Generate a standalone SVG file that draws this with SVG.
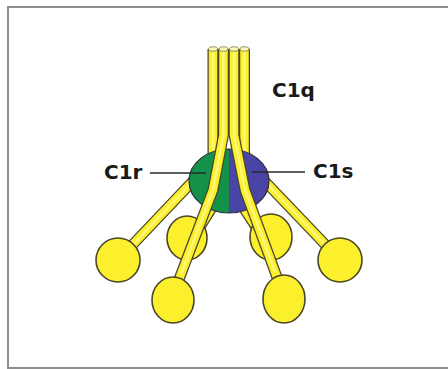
<svg xmlns="http://www.w3.org/2000/svg" width="448" height="369" viewBox="0 0 448 369">
  <style>
    .edge { fill: none; stroke: #4a4628; stroke-width: 11; stroke-linejoin: round; }
    .rod { fill: none; stroke: #fcef2c; stroke-width: 8.5; stroke-linejoin: round; }
    .shine { fill: none; stroke: #fff98c; stroke-width: 2.5; stroke-linejoin: round; opacity: 0.8; }
    .head { fill: #fcef2c; stroke: #4a4628; stroke-width: 1.6; }
    .cap { fill: #fffbb8; stroke: #7a7440; stroke-width: 0.8; }
    .lead { stroke: #2a2a2a; stroke-width: 1.5; fill: none; }
    .lbl { font-family: "DejaVu Sans", sans-serif; font-weight: bold; font-size: 20px; fill: #1a1a1a; }
  </style>

  <!-- panel frame -->
  <rect x="8" y="7" width="460" height="361" fill="#ffffff" stroke="#8e8e8e" stroke-width="2"/>

  <!-- C1q globular heads tucked behind the front arms -->
  <g id="head-inner-left">
    <path class="edge" d="M232,175 L198,230"/>
    <path class="rod" d="M232,175 L198,230"/>
    <ellipse class="head" cx="187" cy="238" rx="20" ry="22"/>
  </g>
  <g id="head-inner-right">
    <path class="edge" d="M222,175 L258,230"/>
    <path class="rod" d="M222,175 L258,230"/>
    <ellipse class="head" cx="271" cy="237" rx="21" ry="23"/>
  </g>

  <!-- outer arms, passing behind C1r / C1s -->
  <g id="head-outer-left">
    <path class="edge" d="M213,49 V160 L118,260"/>
    <path class="rod" d="M213,49 V160 L118,260"/>
    <path class="shine" d="M213,50 V160 L125,253"/>
    <ellipse class="head" cx="118" cy="260" rx="22" ry="22"/>
    <ellipse class="cap" cx="213" cy="49" rx="4.5" ry="2.2"/>
  </g>
  <g id="head-outer-right">
    <path class="edge" d="M244.5,49 V160 L340,260"/>
    <path class="rod" d="M244.5,49 V160 L340,260"/>
    <path class="shine" d="M244.5,50 V160 L333,253"/>
    <ellipse class="head" cx="340" cy="260" rx="22" ry="22"/>
    <ellipse class="cap" cx="244.5" cy="49" rx="4.5" ry="2.2"/>
  </g>

  <!-- C1r (green) and C1s (blue) -->
  <defs>
    <clipPath id="left-half"><rect x="150" y="140" width="79" height="80"/></clipPath>
    <clipPath id="right-half"><rect x="229" y="140" width="80" height="80"/></clipPath>
  </defs>
  <g id="c1r">
    <ellipse cx="229" cy="181" rx="40" ry="32" fill="#14924a" clip-path="url(#left-half)"/>
  </g>
  <g id="c1s">
    <ellipse cx="229" cy="181" rx="40" ry="32" fill="#4a44a6" clip-path="url(#right-half)"/>
  </g>
  <ellipse cx="229" cy="181" rx="40" ry="32" fill="none" stroke="#2c2c3a" stroke-width="1.2"/>

  <!-- front arms crossing the C1r/C1s pair -->
  <g id="head-front-left">
    <path class="edge" d="M223.5,49 V135 L213,190 L178,282"/>
    <path class="rod" d="M223.5,49 V135 L213,190 L178,282"/>
    <path class="shine" d="M223.5,50 V135 L213,190 L181,274"/>
    <ellipse class="head" cx="173" cy="300" rx="21" ry="23"/>
    <ellipse class="cap" cx="223.5" cy="49" rx="4.5" ry="2.2"/>
  </g>
  <g id="head-front-right">
    <path class="edge" d="M234,49 V135 L245,190 L278,280"/>
    <path class="rod" d="M234,49 V135 L245,190 L278,280"/>
    <path class="shine" d="M234,50 V135 L245,190 L275,272"/>
    <ellipse class="head" cx="284" cy="299" rx="21" ry="24"/>
    <ellipse class="cap" cx="234" cy="49" rx="4.5" ry="2.2"/>
  </g>

  <!-- label leaders -->
  <g id="connectors">
    <line class="lead" x1="150" y1="173" x2="206" y2="173"/>
    <line class="lead" x1="252" y1="172" x2="305" y2="172"/>
  </g>

  <!-- labels -->
  <g id="label-c1q"><text class="lbl" x="272" y="97">C1q</text></g>
  <g id="label-c1r"><text class="lbl" x="104" y="179">C1r</text></g>
  <g id="label-c1s"><text class="lbl" x="313" y="178">C1s</text></g>
</svg>
